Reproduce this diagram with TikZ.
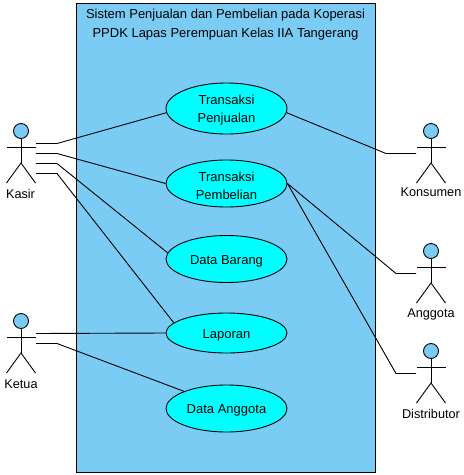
\documentclass[tikz,border=0pt]{standalone}
\usepackage{fontspec}
\setmainfont{Liberation Sans}
\usetikzlibrary{shapes.geometric}
\definecolor{sysblue}{HTML}{7ACCF5}
\definecolor{uccyan}{HTML}{00FFFF}
\newcommand{\ucline}[1]{\raisebox{-2pt}[\height][\depth]{#1}}
\tikzset{
  usecase/.style={ellipse,draw=black,fill=uccyan,line width=0.9pt,inner sep=0pt,minimum width=121pt,align=center,font=\fontsize{13}{18}\selectfont},
  sysbox/.style={draw=black,fill=sysblue,line width=1pt},
  link/.style={draw=black,line width=0.9pt},
  lbl/.style={inner sep=0pt,font=\fontsize{12.7}{14}\selectfont},
  stick/.style={draw=black,line width=0.9pt},
  actorhead/.style={circle,draw=black,fill=sysblue,line width=0.9pt,minimum size=15pt,inner sep=0pt},
  actor/.pic={
    \node[actorhead] (-head) at (0,0) {};
    \draw[stick] (-head.south) -- (0,32);
    \draw[stick] (-14.5,16) -- (14.5,16);
    \draw[stick] (-14.5,52) -- (0,32) -- (14.5,52);
  }
}
\begin{document}
\begin{tikzpicture}[x=1pt,y=-1pt]
\useasboundingbox (0,0) rectangle (464,475);
\fill[white] (0,0) rectangle (464,475);
\path[sysbox] (76.5,3.5) rectangle (375.5,472);
\node[inner sep=0pt,align=center,font=\fontsize{13}{19}\selectfont] (title) at (225.5,24.5) {Sistem Penjualan dan Pembelian pada Koperasi\\PPDK Lapas Perempuan Kelas IIA Tangerang};
\node[usecase,minimum height=51pt] (tj) at (226.5,108.5) {\ucline{Transaksi}\\\ucline{Penjualan}};
\node[usecase,minimum height=47pt] (tb) at (226.5,183.5) {\ucline{Transaksi}\\\ucline{Pembelian}};
\node[usecase,minimum height=47pt] (db) at (226.5,259) {\ucline{Data Barang}};
\node[usecase,minimum height=40pt] (lp) at (226.5,333) {\ucline{Laporan}};
\node[usecase,minimum height=47pt] (da) at (226.5,408.5) {\ucline{Data Anggota}};
\pic (kasir) at (21,131) {actor};
\pic (ketua) at (21,321) {actor};
\pic (kons) at (431,131) {actor};
\pic (angg) at (431,251) {actor};
\pic (dist) at (431,351) {actor};
\node[lbl] (lkasir) at (20.5,194) {Kasir};
\node[lbl] (lketua) at (21,384) {Ketua};
\node[lbl] (lkons) at (431,192.5) {Konsumen};
\node[lbl] (langg) at (431,314) {Anggota};
\node[lbl] (ldist) at (431,414) {Distributor};
\coordinate (k1) at (36,143.5); \coordinate (k1b) at (57,143.5);
\coordinate (k2) at (36,153.5); \coordinate (k2b) at (57,153.5);
\coordinate (k3) at (36,163.5); \coordinate (k3b) at (57,163.5);
\coordinate (k4) at (36,173.5); \coordinate (k4b) at (57,173.5);
\coordinate (e1) at (36,333.5);
\coordinate (e2) at (36,343.5); \coordinate (e2b) at (57,343.5);
\coordinate (n1) at (416,153.5); \coordinate (n1b) at (386,153.5);
\coordinate (g1) at (416,273.5); \coordinate (g1b) at (396,273.5);
\coordinate (d1) at (416,373.5); \coordinate (d1b) at (396,373.5);
\draw[link] (k1) -- (k1b) -- (tj.184);
\draw[link] (k2) -- (k2b) -- (tb.west);
\draw[link] (k3) -- (k3b) -- (db.174);
\draw[link] (k4) -- (k4b) -- (lp.169);
\draw[link] (e1) -- (lp.west);
\draw[link] (e2) -- (e2b) -- (da.158);
\draw[link] (n1) -- (n1b) -- (tj.356);
\draw[link] (g1) -- (g1b) -- (tb.east);
\draw[link] (d1) -- (d1b) -- (tb.east);
\end{tikzpicture}
\end{document}
